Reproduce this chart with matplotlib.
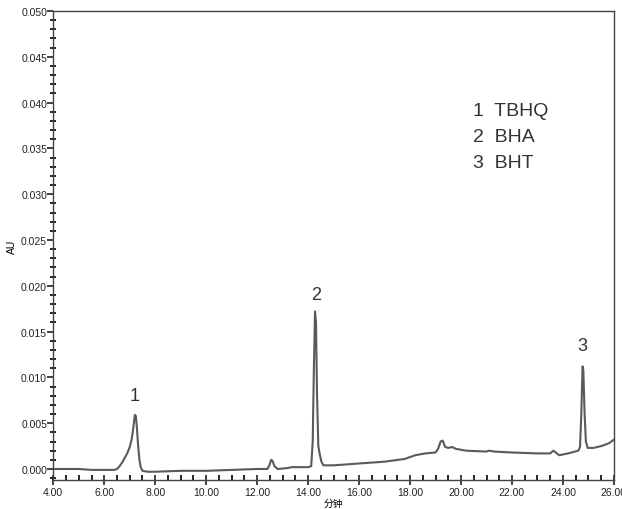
import matplotlib
matplotlib.use("Agg")
import matplotlib.pyplot as plt
from matplotlib.ticker import MultipleLocator, FormatStrFormatter

plt.rcParams["font.family"] = ["Liberation Sans", "Noto Sans CJK SC"]

# retention time (min) and absorbance (AU)
time_min = [4.0, 4.5, 5.0, 5.5, 6.0, 6.4, 6.5, 6.6, 6.7, 6.8, 6.9, 7.0, 7.08, 7.14,
            7.2, 7.24, 7.28, 7.33, 7.38, 7.43, 7.5, 7.7, 8.0, 9.0, 10.0, 11.0,
            12.0, 12.4, 12.48, 12.55, 12.6, 12.68, 12.8, 13.2, 13.35, 14.0, 14.12,
            14.18, 14.22, 14.27, 14.31, 14.35, 14.4, 14.45, 14.52, 14.6, 15.0,
            16.0, 17.0, 17.8, 18.2, 18.6, 19.0, 19.1, 19.2, 19.28, 19.38, 19.5,
            19.65, 19.8, 20.2, 21.0, 21.1, 21.3, 22.0, 23.0, 23.5, 23.62, 23.72,
            23.85, 24.2, 24.6, 24.67, 24.72, 24.77, 24.8, 24.85, 24.9, 24.97,
            25.2, 25.5, 25.8, 26.0]
absorb = [0.0000, 0.0000, 0.0000, -0.0001, -0.0001, -0.0001, 0.0000, 0.0003,
          0.0007, 0.0012, 0.0017, 0.0024, 0.0033, 0.0045, 0.0059, 0.0058, 0.0045,
          0.0025, 0.0010, 0.0002, -0.0002, -0.0003, -0.0003, -0.0002, -0.0002,
          -0.0001, 0.0000, 0.0000, 0.0004, 0.0010, 0.0009, 0.0003, 0.0000, 0.0001,
          0.0002, 0.0002, 0.0003, 0.0030, 0.0100, 0.0172, 0.0160, 0.0080, 0.0025,
          0.0017, 0.0008, 0.0004, 0.0004, 0.0006, 0.0008, 0.0011, 0.0015, 0.0017,
          0.0018, 0.0022, 0.0030, 0.0031, 0.0024, 0.0023, 0.0024, 0.0022, 0.0020,
          0.0019, 0.0020, 0.0019, 0.0018, 0.0017, 0.0017, 0.0020, 0.0018, 0.0015,
          0.0017, 0.0020, 0.0024, 0.0060, 0.0112, 0.0108, 0.0060, 0.0030, 0.0023,
          0.0023, 0.0025, 0.0028, 0.0032]

peak_labels = ["1", "2", "3"]
peak_time = [7.2, 14.3, 24.77]
peak_label_y = [0.0080, 0.0190, 0.0135]
compounds = ["1  TBHQ", "2  BHA", "3  BHT"]

fig = plt.figure(figsize=(6.22, 5.10), dpi=100)
ax = fig.add_axes([0.0857, 0.0569, 0.9013, 0.9196])

ax.plot(time_min, absorb, color="#5a5a5a", lw=1.5)

for lab, t, y in zip(peak_labels, peak_time, peak_label_y):
    ax.text(t, y, lab, ha="center", va="center", fontsize=13, color="#333333")

for i, name in enumerate(compounds):
    ax.text(0.749, 0.788 - i * 0.0555, name, transform=ax.transAxes,
            ha="left", va="center", fontsize=14, color="#333333")

ax.set_xlim(4.0, 26.0)
ax.set_ylim(-0.0012, 0.050)
ax.xaxis.set_major_locator(MultipleLocator(2))
ax.xaxis.set_minor_locator(MultipleLocator(0.5))
ax.yaxis.set_major_locator(MultipleLocator(0.005))
ax.yaxis.set_minor_locator(MultipleLocator(0.001))
ax.xaxis.set_major_formatter(FormatStrFormatter("%.2f"))
ax.yaxis.set_major_formatter(FormatStrFormatter("%.3f"))

ax.tick_params(axis="both", which="major", labelsize=7.5, width=1.2,
               colors="#222222")
ax.tick_params(axis="y", which="major", direction="out", length=4, pad=0.5)
ax.tick_params(axis="y", which="minor", direction="inout", length=4, width=1.2)
ax.tick_params(axis="x", which="minor", direction="in", length=3.5, width=1.2)
ax.tick_params(axis="x", which="major", direction="inout", length=7, pad=1.5)

for sp in ax.spines.values():
    sp.set_color("#444444")
    sp.set_linewidth(1.0)

ax.set_xlabel("分钟", fontsize=7, labelpad=1)
ax.set_ylabel("AU", fontsize=7.5, labelpad=3)

fig.savefig("out.png", dpi=100)
